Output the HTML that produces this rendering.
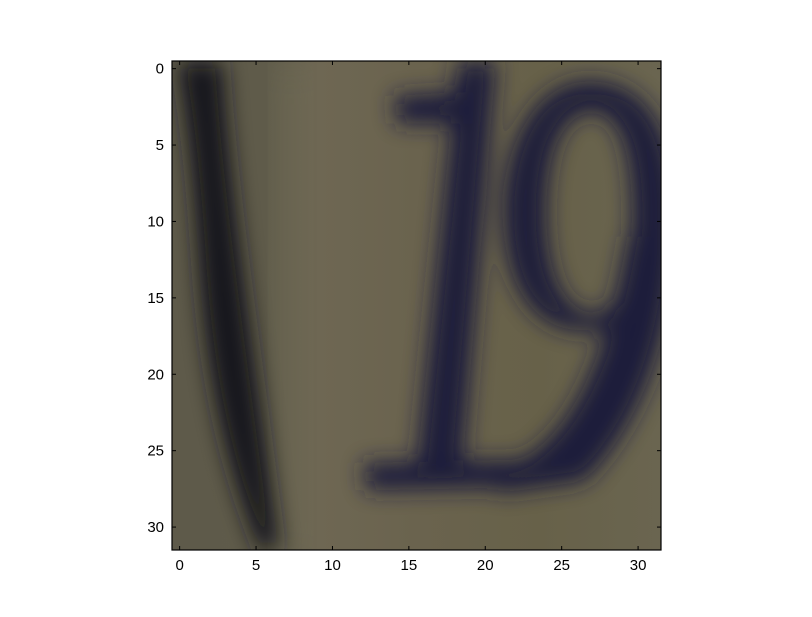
<!DOCTYPE html>
<html><head><meta charset="utf-8"><style>
body{margin:0;background:#fff;}
svg text{font-family:"Liberation Sans",sans-serif;font-size:15px;fill:#000;}
</style></head><body>
<svg width="812" height="612">
<defs>
<clipPath id="clip"><rect x="172" y="61" width="489" height="489"/></clipPath>
<filter id="blur" x="-20%" y="-20%" width="140%" height="140%"><feGaussianBlur stdDeviation="0.75"/></filter>
<filter id="blur2" x="-50%" y="-50%" width="200%" height="200%"><feGaussianBlur stdDeviation="1.5"/></filter>
<linearGradient id="bg" x1="0" y1="0" x2="1" y2="0">
<stop offset="0" stop-color="#5e5a4a"/><stop offset="0.2" stop-color="#5f5b4a"/>
<stop offset="0.3" stop-color="#6e6753"/><stop offset="0.5" stop-color="#6a634e"/>
<stop offset="0.75" stop-color="#676149"/><stop offset="1" stop-color="#6a6550"/>
</linearGradient>
</defs>
<g id="image" clip-path="url(#clip)">
<rect x="172" y="61" width="489" height="489" fill="url(#bg)"/>
<g transform="translate(179.64,68.64) scale(15.28)">
<rect x="6.5" y="-1" width="1.5" height="34" fill="#77735c" filter="url(#blur2)" opacity="0.6"/>
<g filter="url(#blur)">
<path d="M-0.2,-0.5 L2.8,-0.5 C3.3,8 4.8,18 6.5,31.5 L5.2,31.5 C3.5,27 1.8,22 1.2,12 C0.8,6 0.3,2 -0.2,-0.5Z" fill="#14171a"/>
<g fill="#1f1e3a">
<path d="M18.2,-0.5 L20.7,-0.5 L18.4,27.2 L15.4,27.2Z"/>
<path d="M14,1.8 L18.8,1.5 L18.6,3.6 L14.2,3.6Z"/>
<path d="M12,25.8 L22,25.6 L22.5,27.4 L12.2,27.6Z"/>
<path fill-rule="evenodd" d="M26.8,0.8 C30.5,0.8 32.5,4 32.5,9.5 C32.5,14.5 30.5,17.2 26.5,17.2 C23,17.2 21.2,14 21.2,9.5 C21.2,4.5 23.5,0.8 26.8,0.8Z M27,2.8 C25,2.8 24,5.5 24,9.5 C24,13.5 25.2,16 27,16 C29,16 29.6,13 29.6,9.5 C29.6,5.5 28.8,2.8 27,2.8Z"/>
<path d="M29.3,11 L32.5,11 C32.2,18 30,23.5 26.5,27 L20.8,27.8 L21,26.2 C25,25 27.8,20 29.3,11Z"/>
</g>
</g>
</g>
</g>
<rect x="172" y="61" width="489" height="489" fill="none" stroke="#000" stroke-width="1.2"/>
<g id="ticks"></g>
<script>
const xTicks=[0,5,10,15,20,25,30];
const yTicks=[0,5,10,15,20,25,30];
const nPix=32;
const x0=172,y0=61,W=489;
const sx=v=>x0+(v+0.5)*W/nPix;
const sy=v=>y0+(v+0.5)*W/nPix;
const g=document.getElementById('ticks');
const NS='http://www.w3.org/2000/svg';
function line(x1,y1,x2,y2){const l=document.createElementNS(NS,'line');
l.setAttribute('x1',x1);l.setAttribute('y1',y1);l.setAttribute('x2',x2);l.setAttribute('y2',y2);
l.setAttribute('stroke','#000');l.setAttribute('stroke-width','1');


g.appendChild(l);}
xTicks.forEach(v=>{const x=sx(v);line(x,550,x,546);line(x,61,x,65);
const t=document.createElementNS(NS,'text');t.setAttribute('x',x);t.setAttribute('y',570);t.setAttribute('text-anchor','middle');t.textContent=v;


g.appendChild(t);});
yTicks.forEach(v=>{const y=sy(v);line(172,y,176,y);line(661,y,657,y);
const t=document.createElementNS(NS,'text');t.setAttribute('x',164);t.setAttribute('y',y+5);t.setAttribute('text-anchor','end');t.textContent=v;


g.appendChild(t);});
</script>
</svg>
</body></html>
